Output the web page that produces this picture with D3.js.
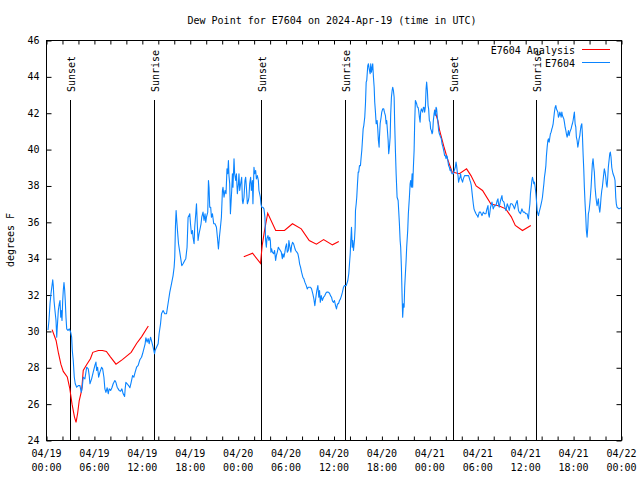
<!DOCTYPE html>
<html><head><meta charset="utf-8">
<script src="https://cdn.jsdelivr.net/npm/d3@7"></script>
<style>
body{margin:0;background:#fff}
text{font-family:"DejaVu Sans Mono","Liberation Mono",monospace;font-size:10px;fill:#000}
</style>
</head><body>
<svg id="chart" width="640" height="480"></svg>
<script>
// ---------------- data ----------------
const chartTitle = "Dew Point for E7604 on 2024-Apr-19 (time in UTC)";
const yAxisLabel = "degrees F";
const seriesNames = ["E7604 Analysis", "E7604"];
const seriesColors = ["#ff0000", "#0a84ff"];
const yTickValues = [24, 26, 28, 30, 32, 34, 36, 38, 40, 42, 44, 46];
const xTickHours = [0, 6, 12, 18, 24, 30, 36, 42, 48, 54, 60, 66, 72];
const xTickDates = ["04/19","04/19","04/19","04/19","04/20","04/20","04/20","04/20","04/21","04/21","04/21","04/21","04/22"];
const xTickTimes = ["00:00","06:00","12:00","18:00","00:00","06:00","12:00","18:00","00:00","06:00","12:00","18:00","00:00"];
const xMinorHours = d3.range(0, 73, 2);
const sunLabels = ["Sunset", "Sunrise", "Sunset", "Sunrise", "Sunset", "Sunrise"];
const sunHours = [3.0, 13.4, 26.9, 37.35, 50.9, 61.35];

// hours since 2024-04-19 00:00 UTC, dew point (F)
const analysisSeg1 = [[0.7,30.1],[1.2,29.5],[1.5,28.8],[1.8,28.2],[2.1,27.8],[2.6,27.5],[2.9,26.9],[3.2,26.0],[3.5,25.3],[3.7,25.0],[3.9,25.5],[4.1,26.2],[4.4,26.75],[4.6,27.85],[5.0,28.15],[5.5,28.5],[5.8,28.85],[6.5,28.95],[7.0,28.95],[7.5,28.9],[8.0,28.6],[8.7,28.2],[9.5,28.45],[10.6,28.85],[11.3,29.35],[11.9,29.7],[12.75,30.3]];
const analysisSeg2 = [[24.7,34.1],[25.8,34.3],[26.8,33.75],[27.0,34.7],[27.3,35.55],[27.7,36.5],[28.7,35.55],[29.8,35.55],[30.8,35.92],[31.9,35.64],[32.9,35.0],[33.8,34.8],[34.7,35.05],[35.8,34.76],[36.6,34.94]];
const analysisSeg3 = [[48.6,42.2],[49.0,41.6],[49.2,41.1],[49.8,40.1],[50.2,39.5],[50.8,38.76],[51.7,38.67],[52.6,38.94],[53.15,38.57],[53.8,38.0],[54.6,37.75],[55.65,37.0],[56.7,36.9],[57.5,36.74],[58.2,36.3],[58.7,35.83],[59.6,35.55],[60.65,35.83]];

const stationSeries = [
[0.19,30.08],[0.31,30.6],[0.44,31.52],[0.56,32.07],[0.69,32.52],[0.78,32.84],[0.85,32.52],[0.94,31.7],[1.06,31.15],[1.19,30.6],[1.28,29.68],[1.35,30.23],[1.48,31.15],[1.6,31.52],[1.69,31.7],[1.78,30.78],[1.85,31.15],[1.94,30.6],[2.03,31.7],[2.1,32.25],[2.19,32.69],[2.28,32.25],[2.35,31.7],[2.44,30.78],[2.53,30.14],[2.69,30.05],[2.85,30.14],[3.03,29.95],[3.15,29.68],[3.23,28.95],[3.35,28.4],[3.48,27.48],[3.6,27.12],[3.78,26.93],[3.98,27.02],[4.19,27.02],[4.35,26.65],[4.48,26.93],[4.6,27.48],[4.81,27.39],[5.03,28.03],[5.23,27.94],[5.35,27.57],
[5.44,27.12],[5.65,27.39],[5.85,27.76],[6.06,28.13],[6.19,28.31],[6.28,27.85],[6.4,28.03],[6.53,27.48],[6.69,27.76],[6.9,28.03],[7.03,27.94],[7.19,27.48],[7.31,26.84],[7.44,26.65],[7.6,26.9],[7.73,26.57],[7.85,26.84],[8.03,26.75],[8.19,26.9],[8.35,27.12],[8.56,27.3],[8.69,27.2],[8.85,26.93],[8.98,26.84],[9.1,26.75],[9.28,26.71],[9.44,26.84],[9.6,26.57],[9.78,26.42],[9.85,26.84],[9.94,27.2],[10.1,27.12],[10.28,27.02],[10.44,26.9],[10.6,27.2],[10.78,27.57],[10.94,27.48],[11.1,27.76],[11.28,28.03],[11.48,28.13],[11.69,28.44],[11.9,28.58],[12.03,28.77],[12.19,29.04],[12.35,29.32],[12.44,29.65],[12.6,29.41],[12.73,29.6],[12.85,29.32],[13.03,29.68],[13.19,29.41],[13.35,29.13],[13.53,28.77],[13.6,28.95],[13.78,29.13],[13.98,29.32],[14.1,29.87],[14.28,30.42],[14.4,30.97],[14.6,31.15],
[14.81,30.97],[15.03,30.97],[15.15,31.33],[15.28,31.7],[15.44,32.16],[15.65,32.62],[15.85,33.07],[15.98,33.53],[16.06,34.08],[16.15,35.82],[16.23,36.65],[16.31,36.1],[16.4,35.55],[16.53,34.82],[16.69,34.36],[16.81,34.0],[16.94,33.62],[17.1,33.72],[17.31,33.9],[17.44,34.0],[17.6,34.63],[17.73,36.28],[17.85,36.37],[17.94,36.47],[18.03,35.92],[18.15,35.37],[18.28,35.55],[18.35,35.18],[18.48,34.82],[18.56,35.73],[18.69,36.47],[18.78,37.02],[18.9,35.73],[18.98,35.0],[19.1,35.37],[19.19,35.55],[19.35,35.92],[19.44,36.28],[19.6,36.56],[19.73,36.1],[19.85,36.47],[19.94,36.0],[20.03,36.28],[20.19,36.56],[20.28,38.3],[20.35,37.93],[20.44,36.83],[20.56,36.83],[20.65,36.28],[20.78,36.47],[20.94,35.92],[21.1,35.92],[21.28,35.73],[21.4,35.18],[21.53,34.54],[21.65,35.18],[21.78,35.73],[21.9,36.28],[22.03,37.75],[22.1,37.93],[22.23,37.38],[22.35,37.75],[22.48,37.57],[22.6,38.94],[22.69,38.67],[22.78,39.4],[22.85,38.57],[22.94,38.12],[23.03,36.47],[23.1,37.02],[23.19,37.75],[23.28,38.67],[23.35,37.93],[23.48,39.5],[23.56,38.67],[23.69,38.3],[23.78,38.67],[23.9,37.57],[24.03,38.12],[24.1,38.67],[24.19,37.75],[24.31,38.12],[24.44,38.48],[24.53,37.2],[24.6,37.02],[24.73,37.38],[24.85,38.3],[24.94,38.48],[25.03,37.93],[25.15,37.02],[25.28,37.2],[25.35,37.38],[25.44,38.12],[25.56,38.48],[25.65,37.75],[25.78,38.3],[25.85,37.02],[25.98,39.03],[26.06,38.67],[26.19,38.85],[26.28,38.39],[26.4,38.57],[26.53,38.3],[26.6,37.75],[26.78,37.38],[26.85,37.02],[26.94,36.83],[27.1,36.83],[27.23,36.74],[27.35,36.28],[27.44,35.0],[27.53,34.63],[27.6,35.09],[27.73,35.27],[27.85,35.0],[27.94,35.18],[28.03,35.0],[28.1,34.36],[28.19,34.54],[28.28,34.36],[28.44,34.27],[28.56,34.45],[28.69,33.9],[28.78,34.17],[28.9,34.36],[29.03,34.63],[29.15,34.54],[29.28,34.45],[29.4,34.36],[29.53,34.0],[29.6,34.27],[29.73,34.08],[29.85,34.36],[29.94,34.63],[30.06,34.82],[30.15,34.36],[30.28,34.45],[30.35,35.0],[30.48,34.63],[30.6,34.36],[30.69,34.72],[30.81,34.9],[30.94,34.82],[31.06,34.63],[31.19,34.45],[31.35,34.36],[31.48,34.27],[31.6,34.0],[31.69,33.72],[31.81,33.53],[31.94,33.26],[32.1,32.98],[32.23,32.89],[32.35,32.71],[32.53,32.52],[32.65,32.34],[32.78,32.43],[32.94,32.43],[33.06,32.43],[33.19,32.34],[33.35,32.07],[33.48,31.79],[33.6,31.42],[33.73,31.88],[33.85,32.25],[33.98,32.52],[34.1,31.88],[34.19,32.25],[34.28,31.6],[34.4,31.97],[34.53,31.7],[34.69,31.88],[34.85,31.97],[34.98,32.1],[35.1,32.16],[35.28,32.16],[35.44,32.1],[35.56,31.97],[35.69,31.88],[35.81,31.66],[35.94,31.6],[36.06,31.7],[36.19,31.42],[36.31,31.24],[36.44,31.52],[36.56,31.52],[36.69,31.7],[36.81,31.79],[36.94,31.97],[37.06,32.16],[37.19,32.43],[37.31,32.52],[37.53,32.52],[37.73,32.8],[37.85,33.17],[37.94,33.72],[38.03,34.27],[38.1,35.0],[38.19,35.73],[38.28,34.63],[38.35,35.0],[38.44,34.45],[38.56,35.0],[38.65,35.73],[38.69,36.65],[38.78,37.02],[38.85,37.38],[38.94,38.12],[39.03,38.76],[39.1,38.76],[39.19,39.12],[39.31,39.12],[39.4,39.58],[39.48,39.95],[39.56,40.5],[39.65,41.14],[39.73,41.32],[39.85,41.78],[39.94,42.52],[40.03,43.71],[40.1,43.8],[40.23,44.62],[40.31,44.72],[40.44,44.35],[40.53,44.17],[40.6,44.72],[40.69,44.26],[40.78,44.53],[40.85,44.72],[40.94,43.98],[41.03,43.43],[41.1,42.6],[41.19,42.06],[41.28,41.42],[41.4,41.6],[41.48,41.14],[41.56,40.5],[41.65,40.13],[41.69,40.68],[41.78,41.42],[41.9,41.78],[41.98,42.06],[42.1,42.24],[42.23,42.24],[42.31,42.06],[42.44,41.87],[42.53,41.42],[42.6,41.6],[42.69,41.05],[42.78,40.5],[42.85,39.77],[42.94,40.13],[43.03,40.68],[43.1,41.96],[43.19,42.88],[43.28,43.25],[43.35,43.43],[43.44,43.25],[43.53,42.88],[43.6,41.42],[43.69,39.95],[43.78,38.67],[43.9,37.38],[44.03,37.2],[44.1,36.65],[44.19,35.92],[44.28,35.0],[44.35,34.63],[44.44,33.53],[44.53,31.88],[44.6,30.78],[44.69,31.52],[44.78,31.33],[44.85,32.43],[44.94,33.17],[45.03,33.9],[45.1,34.63],[45.23,35.55],[45.31,36.47],[45.44,37.38],[45.53,38.12],[45.6,38.3],[45.69,37.93],[45.78,38.67],[45.85,37.93],[45.94,39.03],[46.03,39.95],[46.1,41.42],[46.19,42.7],[46.28,42.6],[46.35,42.52],[46.44,42.33],[46.53,42.33],[46.6,42.15],[46.69,41.78],[46.78,41.51],[46.85,42.06],[46.94,42.24],[47.03,42.15],[47.1,42.06],[47.19,42.33],[47.28,42.33],[47.35,42.06],[47.44,42.33],[47.53,43.34],[47.6,43.71],[47.69,43.25],[47.78,42.42],[47.85,42.24],[47.94,41.6],[48.03,41.51],[48.1,41.14],[48.19,41.05],[48.28,40.87],[48.35,40.96],[48.44,41.6],[48.53,41.96],[48.6,42.15],[48.69,41.87],[48.78,42.33],[48.85,42.24],[48.94,41.78],[49.03,41.42],[49.1,41.05],[49.19,40.87],[49.28,40.77],[49.35,40.68],[49.44,40.59],[49.53,40.31],[49.6,40.22],[49.69,40.04],[49.78,39.86],[49.85,39.67],[49.94,39.67],[50.03,39.5],[50.1,39.67],[50.19,39.58],[50.28,39.31],[50.35,39.12],[50.44,39.03],[50.53,38.85],[50.6,38.94],[50.69,38.76],[50.78,38.67],[50.94,38.67],[51.06,38.85],[51.19,39.03],[51.28,39.31],[51.35,39.12],[51.44,38.76],[51.53,38.57],[51.6,38.21],[51.69,38.39],[51.78,38.48],[51.85,38.67],[51.94,38.39],[52.03,38.3],[52.1,38.21],[52.19,38.39],[52.35,38.57],[52.53,38.57],[52.69,38.57],[52.85,38.57],[53.03,38.3],[53.1,38.21],[53.19,38.03],[53.28,37.66],[53.35,37.38],[53.44,37.02],[53.53,36.74],[53.6,36.65],[53.78,36.47],[53.94,36.37],[54.03,36.28],[54.19,36.56],[54.35,36.56],[54.53,36.37],[54.69,36.56],[54.85,36.47],[55.03,36.47],[55.1,36.65],[55.28,36.92],[55.35,36.47],[55.44,36.28],[55.6,36.83],[55.78,37.11],[55.94,36.74],[56.1,36.92],[56.28,36.92],[56.44,37.2],[56.53,37.29],[56.6,37.02],[56.69,36.83],[56.85,37.2],[57.03,37.47],[57.1,37.2],[57.28,37.11],[57.44,36.74],[57.53,36.65],[57.69,37.02],[57.85,36.83],[57.94,36.65],[58.1,37.02],[58.28,37.02],[58.44,36.92],[58.6,36.74],[58.78,37.02],[58.94,37.2],[59.1,36.65],[59.19,36.56],[59.35,36.47],[59.53,36.74],[59.69,36.56],[59.85,36.56],[60.03,36.47],[60.19,36.47],[60.28,36.28],[60.35,36.19],[60.44,36.65],[60.53,37.02],[60.6,37.57],[60.69,37.93],[60.78,38.3],[60.85,38.48],[60.94,38.3],[61.03,38.12],[61.1,38.21],[61.19,37.93],[61.28,37.57],[61.35,37.2],[61.44,36.65],[61.53,36.47],[61.6,36.37],[61.69,36.56],[61.85,36.83],[61.94,37.02],[62.03,37.2],[62.1,37.38],[62.19,37.75],[62.28,38.12],[62.35,38.48],[62.44,38.76],[62.53,39.12],[62.6,39.67],[62.69,40.13],[62.78,40.5],[62.85,40.59],[62.94,40.41],[63.03,40.68],[63.1,40.87],[63.19,40.96],[63.28,41.14],[63.35,41.23],[63.44,41.42],[63.53,41.78],[63.6,42.06],[63.69,42.33],[63.78,42.42],[63.85,42.24],[63.94,42.15],[64.03,42.06],[64.1,41.78],[64.19,41.87],[64.28,42.06],[64.35,41.96],[64.44,41.78],[64.53,42.06],[64.6,41.87],[64.69,41.78],[64.78,41.69],[64.85,41.51],[64.94,41.23],[65.03,41.05],[65.1,40.87],[65.19,40.68],[65.28,40.87],[65.35,41.05],[65.44,40.77],[65.53,40.96],[65.6,41.05],[65.69,41.14],[65.78,41.32],[65.85,41.42],[65.94,41.6],[66.03,41.87],[66.1,42.06],[66.19,41.42],[66.28,41.23],[66.35,40.68],[66.44,40.5],[66.53,40.13],[66.6,40.31],[66.69,40.59],[66.78,40.77],[66.85,41.05],[66.94,41.32],[67.03,41.42],[67.1,40.87],[67.19,39.77],[67.28,38.85],[67.35,37.93],[67.44,37.02],[67.53,36.28],[67.6,35.55],[67.69,35.18],[67.78,35.73],[67.85,36.47],[67.94,36.65],[68.03,37.02],[68.1,37.38],[68.19,37.93],[68.28,38.67],[68.35,39.22],[68.44,39.5],[68.53,39.03],[68.6,38.76],[68.69,37.93],[68.78,37.47],[68.85,37.2],[68.94,36.92],[69.03,37.11],[69.1,37.29],[69.19,36.83],[69.28,36.56],[69.35,36.83],[69.44,37.38],[69.53,37.75],[69.6,37.93],[69.69,38.3],[69.78,38.67],[69.85,38.94],[69.94,38.76],[70.03,38.48],[70.1,38.12],[70.19,37.93],[70.28,38.48],[70.35,39.03],[70.44,39.4],[70.53,39.77],[70.6,39.86],[70.69,39.58],[70.78,39.03],[70.85,38.85],[70.94,38.67],[71.1,38.48],[71.19,38.3],[71.28,37.38],[71.35,37.02],[71.44,36.83],[71.69,36.74],[71.95,36.8]
];

// ---------------- chart ----------------
const svg = d3.select("#chart");
svg.append("rect").attr("width", 640).attr("height", 480).attr("fill", "#fff");

const L = 46.5, R = 621.5, T = 40.5, B = 440.5;
const t0 = Date.UTC(2024, 3, 19, 0, 0);
const hToDate = h => new Date(t0 + h * 3600000);

const x = d3.scaleUtc().domain([hToDate(0), hToDate(72)]).range([L, R]);
const y = d3.scaleLinear().domain([24, 46]).range([B, T]);

// title
svg.append("text").attr("x", 332).attr("y", 24).attr("text-anchor", "middle").text(chartTitle);

// y axis label
svg.append("text").attr("transform", "translate(14,240) rotate(-90)")
  .attr("text-anchor", "middle").text(yAxisLabel);

// ticks via d3 axes (inward)
const axisStyle = g => { g.select(".domain").remove(); g.selectAll("line").attr("stroke", "#000"); g.selectAll("text").remove(); };
svg.append("g").attr("transform", `translate(0,${B})`)
  .call(d3.axisBottom(x).tickValues(xMinorHours.map(hToDate)).tickSize(-4).tickFormat(() => "")).call(axisStyle);
svg.append("g").attr("transform", `translate(0,${T})`)
  .call(d3.axisTop(x).tickValues(xMinorHours.map(hToDate)).tickSize(-4).tickFormat(() => "")).call(axisStyle);
svg.append("g").attr("transform", `translate(${L},0)`)
  .call(d3.axisLeft(y).tickValues(yTickValues).tickSize(-5).tickFormat(() => "")).call(axisStyle);
svg.append("g").attr("transform", `translate(${R},0)`)
  .call(d3.axisRight(y).tickValues(yTickValues).tickSize(-5).tickFormat(() => "")).call(axisStyle);

// y tick labels
svg.append("g").selectAll("text").data(yTickValues).join("text")
  .attr("x", L - 7).attr("y", d => y(d)).attr("dy", "0.35em")
  .attr("text-anchor", "end").text(d => d);

// x tick labels (two lines)
const xl = svg.append("g").selectAll("text").data(xTickHours).join("text")
  .attr("text-anchor", "middle");
xl.append("tspan").attr("x", d => x(hToDate(d))).attr("y", 457).text((d, i) => xTickDates[i]);
xl.append("tspan").attr("x", d => x(hToDate(d))).attr("y", 471).text((d, i) => xTickTimes[i]);

// sunrise / sunset markers
const sun = svg.append("g");
sunHours.forEach((h, i) => {
  const sx = Math.round(x(hToDate(h))) + 0.5;
  sun.append("line").attr("x1", sx).attr("x2", sx).attr("y1", 100).attr("y2", B)
    .attr("stroke", "#000").attr("stroke-width", 1);
  sun.append("text").attr("transform", `translate(${sx + 1},92) rotate(-90)`)
    .attr("dy", "0.35em").text(sunLabels[i]);
});

// data lines
const line = d3.line().x(d => x(hToDate(d[0]))).y(d => y(d[1]));
[analysisSeg1, analysisSeg2, analysisSeg3].forEach(seg => {
  svg.append("path").datum(seg).attr("d", line).attr("fill", "none")
    .attr("stroke", seriesColors[0]).attr("stroke-width", 1.1);
});
svg.append("path").datum(stationSeries).attr("d", line).attr("fill", "none")
  .attr("stroke", seriesColors[1]).attr("stroke-width", 1.1).attr("stroke-linejoin", "round");

// border
svg.append("rect").attr("x", L).attr("y", T).attr("width", R - L).attr("height", B - T)
  .attr("fill", "none").attr("stroke", "#000");

// legend
const legY = [50, 63];
seriesNames.forEach((name, i) => {
  svg.append("text").attr("x", 575).attr("y", legY[i]).attr("dy", "0.35em")
    .attr("text-anchor", "end").text(name);
  svg.append("line").attr("x1", 582).attr("x2", 610).attr("y1", legY[i] - 0.5).attr("y2", legY[i] - 0.5)
    .attr("stroke", seriesColors[i]);
});
</script>
</body></html>
